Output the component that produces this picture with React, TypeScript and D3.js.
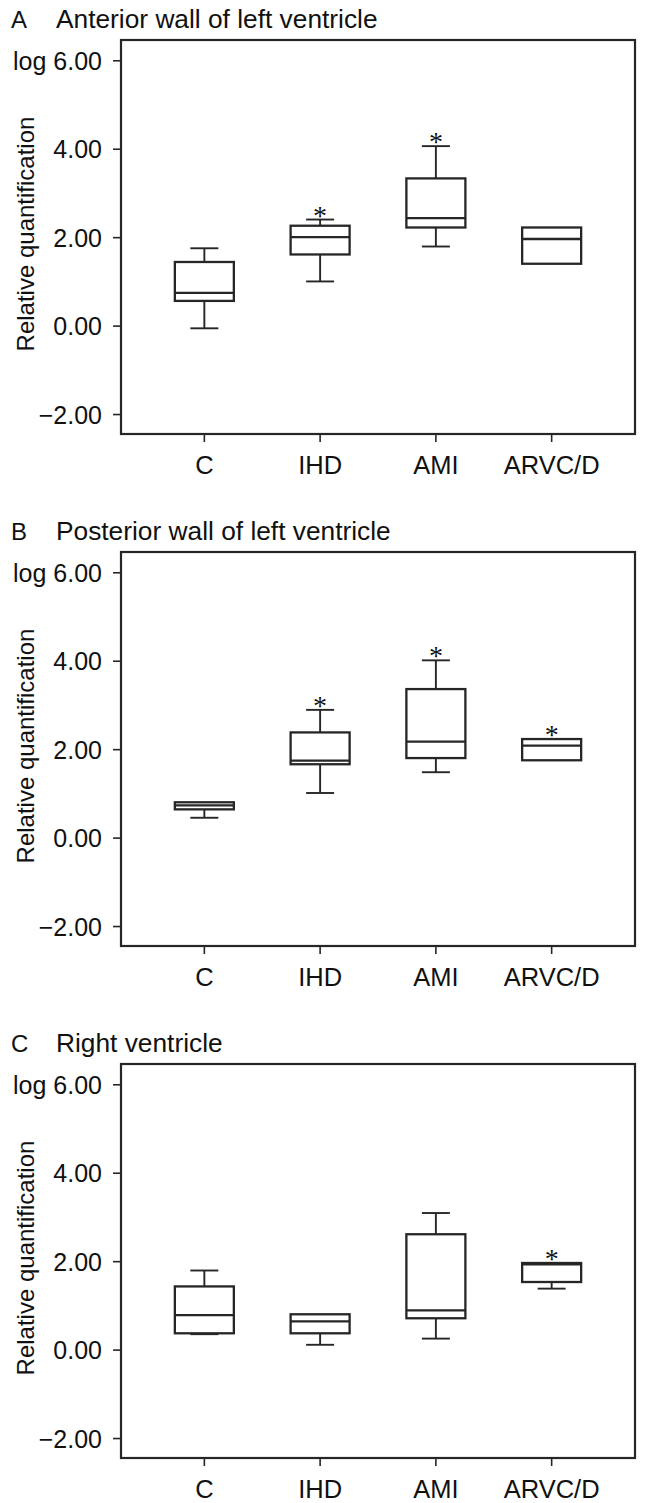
import React, { useEffect, useRef } from "react";
import * as d3 from "d3";

const categories = ["C", "IHD", "AMI", "ARVC/D"];
const yTicks = [6, 4, 2, 0, -2];
const yTickLabels = ["log 6.00", "4.00", "2.00", "0.00", "\u22122.00"];
const panelLetters = ["A", "B", "C"];
const panelTitles = ["Anterior wall of left ventricle", "Posterior wall of left ventricle", "Right ventricle"];
const yTitle = "Relative quantification";

// Panel A
const aLow = [-0.05, 1.01, 1.8, 1.41];
const aQ1 = [0.57, 1.62, 2.23, 1.41];
const aMed = [0.75, 2.01, 2.44, 1.97];
const aQ3 = [1.45, 2.27, 3.34, 2.23];
const aHigh = [1.76, 2.41, 4.07, 2.23];
const aSig = [false, true, true, false];

// Panel B
const bLow = [0.46, 1.02, 1.49, 1.76];
const bQ1 = [0.65, 1.67, 1.81, 1.76];
const bMed = [0.74, 1.75, 2.18, 2.09];
const bQ3 = [0.81, 2.39, 3.37, 2.24];
const bHigh = [0.81, 2.9, 4.02, 2.24];
const bSig = [false, true, true, true];

// Panel C
const cLow = [0.36, 0.12, 0.26, 1.39];
const cQ1 = [0.38, 0.38, 0.72, 1.54];
const cMed = [0.79, 0.65, 0.9, 1.94];
const cQ3 = [1.44, 0.81, 2.62, 1.97];
const cHigh = [1.8, 0.81, 3.1, 1.97];
const cSig = [false, false, false, true];

const panels = [
  { low: aLow, q1: aQ1, med: aMed, q3: aQ3, high: aHigh, sig: aSig },
  { low: bLow, q1: bQ1, med: bMed, q3: bQ3, high: bHigh, sig: bSig },
  { low: cLow, q1: cQ1, med: cMed, q3: cQ3, high: cHigh, sig: cSig },
];

const W = 646;
const H = 1503;
const FONT = "'Liberation Sans', Arial, Helvetica, sans-serif";
const INK = "#262626";

export default function App() {
  const ref = useRef<SVGSVGElement | null>(null);

  useEffect(() => {
    document.body.style.margin = "0";
    const svg = d3.select(ref.current);
    svg.selectAll("*").remove();
    svg.append("rect").attr("width", W).attr("height", H).attr("fill", "#fff");

    const left = 121, right = 635, top0 = 40, bottom0 = 434, offset = 512;
    const x = d3.scalePoint<string>().domain(categories).range([left, right]).padding(0.72);
    const boxW = 59, capW = 28;
    const starSize = 28;

    panels.forEach((p, pi) => {
      const top = top0 + pi * offset;
      const bottom = bottom0 + pi * offset;
      const y = d3.scaleLinear().domain([-2.44, 6.47]).range([bottom, top]);
      const g = svg.append("g");

      // title
      g.append("text").attr("x", 11).attr("y", 28 + pi * offset)
        .attr("font-family", FONT).attr("font-size", 24).attr("fill", "#111").text(panelLetters[pi]);
      g.append("text").attr("x", 56).attr("y", 28 + pi * offset)
        .attr("font-family", FONT).attr("font-size", 26.3).attr("fill", "#111").text(panelTitles[pi]);

      // frame
      g.append("rect").attr("x", left).attr("y", top).attr("width", right - left).attr("height", bottom - top)
        .attr("fill", "none").attr("stroke", INK).attr("stroke-width", 2.2);

      // y ticks
      yTicks.forEach((t, i) => {
        g.append("line").attr("x1", left - 8).attr("x2", left).attr("y1", y(t)).attr("y2", y(t))
          .attr("stroke", INK).attr("stroke-width", 1.6);
        g.append("text").attr("x", 102).attr("y", y(t) + 9).attr("text-anchor", "end")
          .attr("font-family", FONT).attr("font-size", 25).attr("fill", "#111").text(yTickLabels[i]);
      });

      // x ticks
      categories.forEach((c) => {
        const cx = x(c)!;
        g.append("line").attr("x1", cx).attr("x2", cx).attr("y1", bottom).attr("y2", bottom + 8)
          .attr("stroke", INK).attr("stroke-width", 1.6);
        g.append("text").attr("x", cx).attr("y", bottom + 40).attr("text-anchor", "middle")
          .attr("font-family", FONT).attr("font-size", 25.5).attr("fill", "#111").text(c);
      });

      // y title
      const yc = (top + bottom) / 2;
      g.append("text").attr("transform", `translate(34,${yc - 3}) rotate(-90)`).attr("text-anchor", "middle")
        .attr("font-family", FONT).attr("font-size", 24).attr("fill", "#111").text(yTitle);

      // boxes
      categories.forEach((c, i) => {
        const cx = x(c)!;
        const bg = g.append("g").attr("stroke", INK).attr("fill", "none");
        if (p.high[i] > p.q3[i]) {
          bg.append("line").attr("x1", cx).attr("x2", cx).attr("y1", y(p.q3[i])).attr("y2", y(p.high[i])).attr("stroke-width", 1.9);
          bg.append("line").attr("x1", cx - capW / 2).attr("x2", cx + capW / 2).attr("y1", y(p.high[i])).attr("y2", y(p.high[i])).attr("stroke-width", 1.9);
        }
        if (p.low[i] < p.q1[i]) {
          bg.append("line").attr("x1", cx).attr("x2", cx).attr("y1", y(p.q1[i])).attr("y2", y(p.low[i])).attr("stroke-width", 1.9);
          bg.append("line").attr("x1", cx - capW / 2).attr("x2", cx + capW / 2).attr("y1", y(p.low[i])).attr("y2", y(p.low[i])).attr("stroke-width", 1.9);
        }
        bg.append("rect").attr("x", cx - boxW / 2).attr("y", y(p.q3[i])).attr("width", boxW)
          .attr("height", y(p.q1[i]) - y(p.q3[i])).attr("fill", "#fff").attr("stroke-width", 2.3);
        bg.append("line").attr("x1", cx - boxW / 2).attr("x2", cx + boxW / 2).attr("y1", y(p.med[i])).attr("y2", y(p.med[i])).attr("stroke-width", 2.3);
        if (p.sig[i]) {
          g.append("text").attr("x", cx).attr("y", y(p.high[i]) - 9 + starSize * 0.5).attr("text-anchor", "middle")
            .attr("font-family", "'Liberation Serif', 'DejaVu Serif', serif").attr("font-size", starSize).attr("fill", "#111").text("*");
        }
      });
    });
  }, []);

  return <svg ref={ref} width={W} height={H} style={{ position: "absolute", left: 0, top: 0, display: "block" }} />;
}
